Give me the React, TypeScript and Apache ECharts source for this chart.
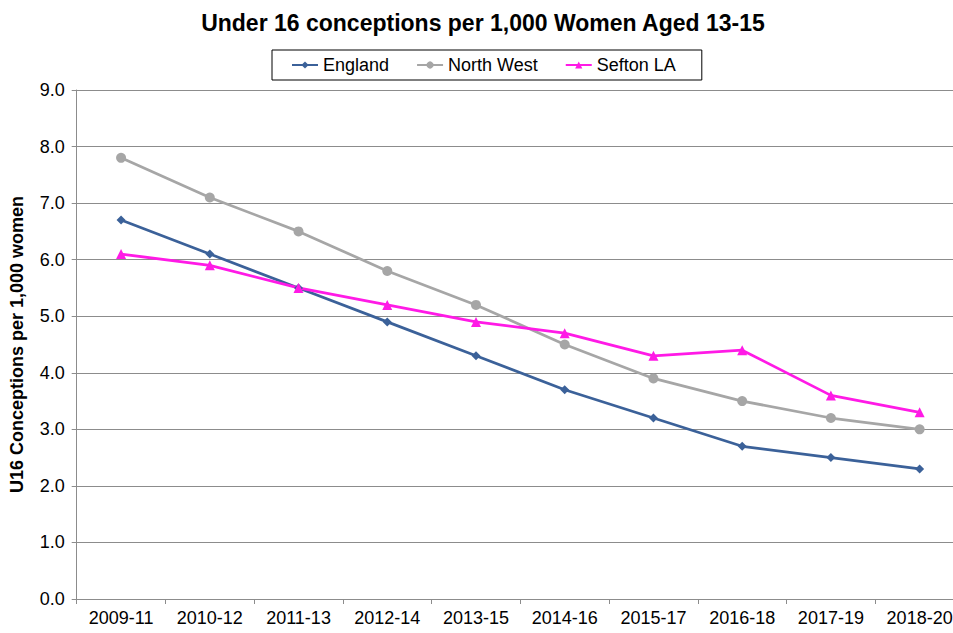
import React, { useEffect, useRef } from "react";
import * as echarts from "echarts";

const categories = ["2009-11", "2010-12", "2011-13", "2012-14", "2013-15", "2014-16", "2015-17", "2016-18", "2017-19", "2018-20"];
const england = [6.7, 6.1, 5.5, 4.9, 4.3, 3.7, 3.2, 2.7, 2.5, 2.3];
const northWest = [7.8, 7.1, 6.5, 5.8, 5.2, 4.5, 3.9, 3.5, 3.2, 3.0];
const sefton = [6.1, 5.9, 5.5, 5.2, 4.9, 4.7, 4.3, 4.4, 3.6, 3.3];

const FONT = "Liberation Sans, Arial, sans-serif";

export default function App() {
  const ref = useRef<HTMLDivElement>(null);
  useEffect(() => {
    if (!ref.current) return;
    const chart = echarts.init(ref.current, undefined, { renderer: "svg" });
    const mk = (name: string, data: number[], color: string, symbol: string, size: number) => ({
      name,
      type: "line",
      data,
      symbol,
      symbolSize: size,
      lineStyle: { color, width: 2.75 },
      itemStyle: { color },
      emphasis: { disabled: true },
    });
    chart.setOption({
      animation: false,
      backgroundColor: "#ffffff",
      textStyle: { fontFamily: FONT },
      title: {
        text: "Under 16 conceptions per 1,000 Women Aged 13-15",
        left: "center",
        top: 6,
        textStyle: { fontFamily: FONT, fontSize: 23, fontWeight: "bold", color: "#000" },
      },
      legend: {
        top: 50,
        left: 272,
        data: ["England", "North West", "Sefton LA"],
        borderColor: "#000",
        borderWidth: 1,
        padding: [6, 26, 6, 19],
        itemGap: 27,
        itemWidth: 26,
        itemHeight: 9,
        textStyle: { fontFamily: FONT, fontSize: 18, color: "#000" },
      },
      grid: { left: 76.7, top: 90, right: 2, bottom: 34, containLabel: false, outerBoundsMode: "none" },
      xAxis: {
        type: "category",
        data: categories,
        boundaryGap: true,
        axisLine: { lineStyle: { color: "#8c8c8c", width: 1 } },
        axisTick: { show: true, length: 5, lineStyle: { color: "#8c8c8c" } },
        axisLabel: { color: "#000", fontSize: 18, fontFamily: FONT, margin: 10 },
      },
      yAxis: {
        type: "value",
        min: 0,
        max: 9,
        interval: 1,
        name: "U16 Conceptions per 1,000 women",
        nameLocation: "middle",
        nameGap: 51,
        nameRotate: 90,
        nameTextStyle: { fontFamily: FONT, fontSize: 18, fontWeight: "bold", color: "#000" },
        axisLine: { show: true, lineStyle: { color: "#8c8c8c", width: 1 } },
        axisTick: { show: true, length: 5, lineStyle: { color: "#8c8c8c" } },
        axisLabel: { color: "#000", fontSize: 18, fontFamily: FONT, margin: 12, formatter: (v: number) => v.toFixed(1) },
        splitLine: { show: true, lineStyle: { color: "#8c8c8c", width: 1 } },
      },
      series: [
        mk("England", england, "#3b6199", "diamond", 9),
        mk("North West", northWest, "#a6a6a6", "circle", 10),
        mk("Sefton LA", sefton, "#ff1ae6", "triangle", 10),
      ],
    });
    return () => chart.dispose();
  }, []);
  return <div ref={ref} style={{ position: "fixed", left: 0, top: 0, width: 966, height: 633 }} />;
}
